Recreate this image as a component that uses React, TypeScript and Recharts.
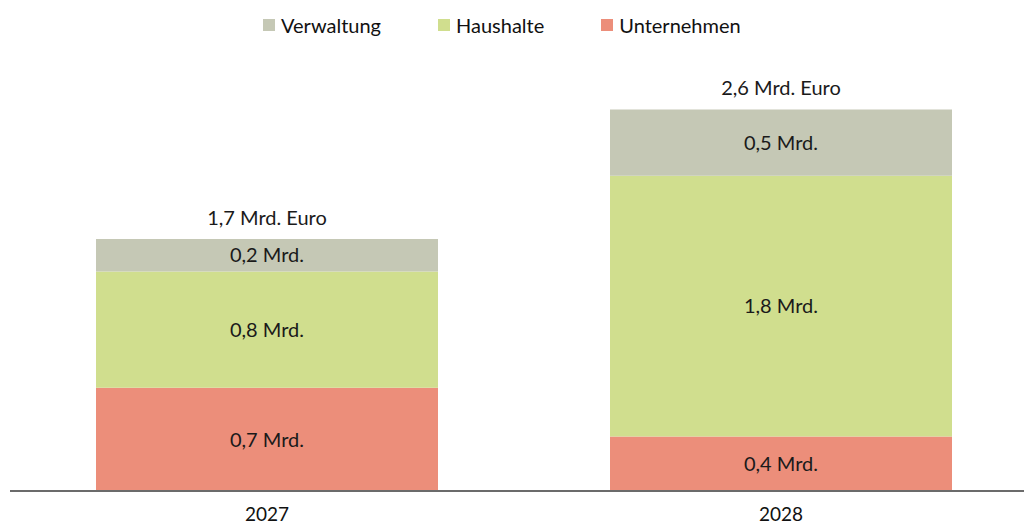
import { Bar, BarChart, LabelList, XAxis, YAxis } from 'recharts';

const years = ['2027', '2028'];
const unternehmen = [0.7, 0.37];
const haushalte = [0.79, 1.77];
const verwaltung = [0.22, 0.45];
const unternehmenLabels = ['0,7 Mrd.', '0,4 Mrd.'];
const haushalteLabels = ['0,8 Mrd.', '1,8 Mrd.'];
const verwaltungLabels = ['0,2 Mrd.', '0,5 Mrd.'];
const totalLabels = ['1,7 Mrd. Euro', '2,6 Mrd. Euro'];

const series = [
  { key: 'verwaltung', name: 'Verwaltung', color: '#c5c8b5' },
  { key: 'haushalte', name: 'Haushalte', color: '#d0de8e' },
  { key: 'unternehmen', name: 'Unternehmen', color: '#ec8e7a' },
];

const data = years.map((year, i) => ({
  year,
  unternehmen: unternehmen[i],
  haushalte: haushalte[i],
  verwaltung: verwaltung[i],
  uLabel: unternehmenLabels[i],
  hLabel: haushalteLabels[i],
  vLabel: verwaltungLabels[i],
  total: totalLabels[i],
}));

const FONT = 'Lato, "Noto Sans", sans-serif';
const labelStyle = { fill: '#1a1a1a', fontSize: 20, fontFamily: FONT };

// legend drawn as plain html so it doesn't eat plot height
function LegendBox() {
  return (
    <div
      style={{
        position: 'absolute',
        top: 13,
        left: 263,
        display: 'flex',
        alignItems: 'center',
        fontFamily: FONT,
        fontSize: 20,
        color: '#111',
        zIndex: 2,
      }}
    >
      {series.map((s, i) => (
        <div key={s.key} style={{ display: 'flex', alignItems: 'center', marginRight: i < series.length - 1 ? 57 : 0 }}>
          <span style={{ width: 12, height: 12, background: s.color, marginRight: 6, display: 'inline-block' }} />
          <span>{s.name}</span>
        </div>
      ))}
    </div>
  );
}

export default function App() {
  return (
    <div style={{ position: 'absolute', left: 0, top: 0, width: 1024, height: 525, overflow: 'hidden', background: '#fff' }}>
      <LegendBox />
      <BarChart width={1040} height={525} data={data} margin={{ top: 49, right: 2, left: 10, bottom: 0 }} barSize={342}>
        <XAxis
          dataKey="year"
          height={34}
          tickLine={false}
          axisLine={{ stroke: '#6b6b6b', strokeWidth: 2 }}
          tick={{ fill: '#111', fontSize: 19, fontFamily: FONT }}
          tickMargin={11}
        />
        <YAxis hide domain={[0, 3]} />
        <Bar dataKey="unternehmen" name="Unternehmen" stackId="a" fill="#ec8e7a" isAnimationActive={false}>
          <LabelList dataKey="uLabel" position="center" style={labelStyle} />
        </Bar>
        <Bar dataKey="haushalte" name="Haushalte" stackId="a" fill="#d0de8e" isAnimationActive={false}>
          <LabelList dataKey="hLabel" position="center" style={labelStyle} />
        </Bar>
        <Bar dataKey="verwaltung" name="Verwaltung" stackId="a" fill="#c5c8b5" isAnimationActive={false}>
          <LabelList dataKey="vLabel" position="center" style={labelStyle} />
          <LabelList dataKey="total" position="top" offset={14} style={labelStyle} />
        </Bar>
      </BarChart>
    </div>
  );
}
